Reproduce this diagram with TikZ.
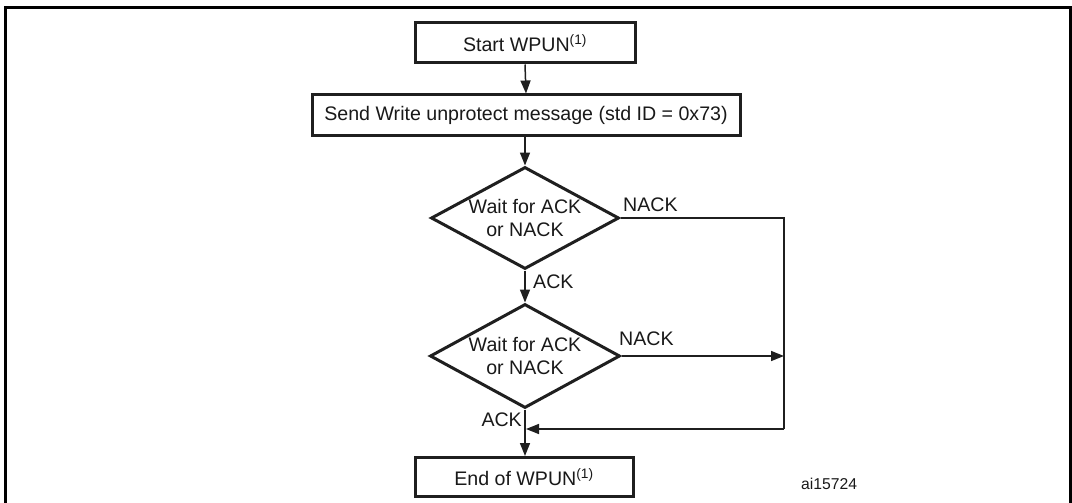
\documentclass[tikz,border=0pt]{standalone}
\usepackage{fontspec}
\setmainfont{Liberation Sans}
\usetikzlibrary{shapes.geometric,arrows.meta}
\tikzset{
  base/.style={font=\fontsize{19.6}{23}\selectfont, text=black!90},
  procbox/.style={base, draw=black!88, line width=3pt, rectangle, inner sep=0pt, fill=white},
  decbox/.style={draw=black!88, line width=3pt, diamond, inner sep=0pt},
  dectext/.style={base, align=center, inner sep=0pt},
  flow/.style={draw=black!88, line width=1.5pt, -{Triangle[length=13pt,width=10pt]}},
  plain/.style={draw=black!88, line width=1.5pt},
  lbl/.style={base, inner sep=0pt},
}
\begin{document}
\begin{tikzpicture}[x=1pt,y=-1pt]
\useasboundingbox (0,0) rectangle (1072,503);
% frame
\draw[line width=3pt, black] (5,503) -- (5,8) -- (1070,8) -- (1070,503);

\node[procbox, minimum width=220pt, minimum height=40pt] (start) at (525,43) {Start WPUN\textsuperscript{(1)}};
\node[procbox, minimum width=428pt, minimum height=40pt] (send) at (526,115) {Send Write unprotect message (std ID = 0x73)};
\node[decbox, minimum width=188pt, minimum height=102pt] (d1) at (525,218) {};
\node[dectext] (t1) at (525,218) {Wait for ACK\\or NACK};
\node[decbox, minimum width=190pt, minimum height=104pt] (d2) at (525,356) {};
\node[dectext] (t2) at (525,356) {Wait for ACK\\or NACK};
\node[procbox, minimum width=218pt, minimum height=39pt] (end) at (524,477) {End of WPUN\textsuperscript{(1)}};

\coordinate (r1) at (784,218);
\coordinate (r2) at (784,429);
\coordinate (r3) at (784,356);
\coordinate (j) at (526,429);

\draw[flow] (start.south) -- (send.north);
\draw[flow] (send.south -| d1.north) -- (d1.north);
\draw[flow] (d1.south) -- (d2.north);
\draw[flow] (d2.south) -- (end.north -| d2.south);
\draw[plain] (d1.east) -- (r1) -- (r2);
\draw[flow] (r2) -- (j);
\draw[flow] (d2.east) -- (r3);

\node[lbl, anchor=west] (nack1) at (623,205) {NACK};
\node[lbl, anchor=west] (nack2) at (619,339) {NACK};
\node[lbl, anchor=west] (ack1) at (533,282) {ACK};
\node[lbl, anchor=east] (ack2) at (522,420) {ACK};
\node[lbl, font=\fontsize{15.7}{18}\selectfont, anchor=west] (ai) at (801,484) {ai15724};
\end{tikzpicture}
\end{document}
